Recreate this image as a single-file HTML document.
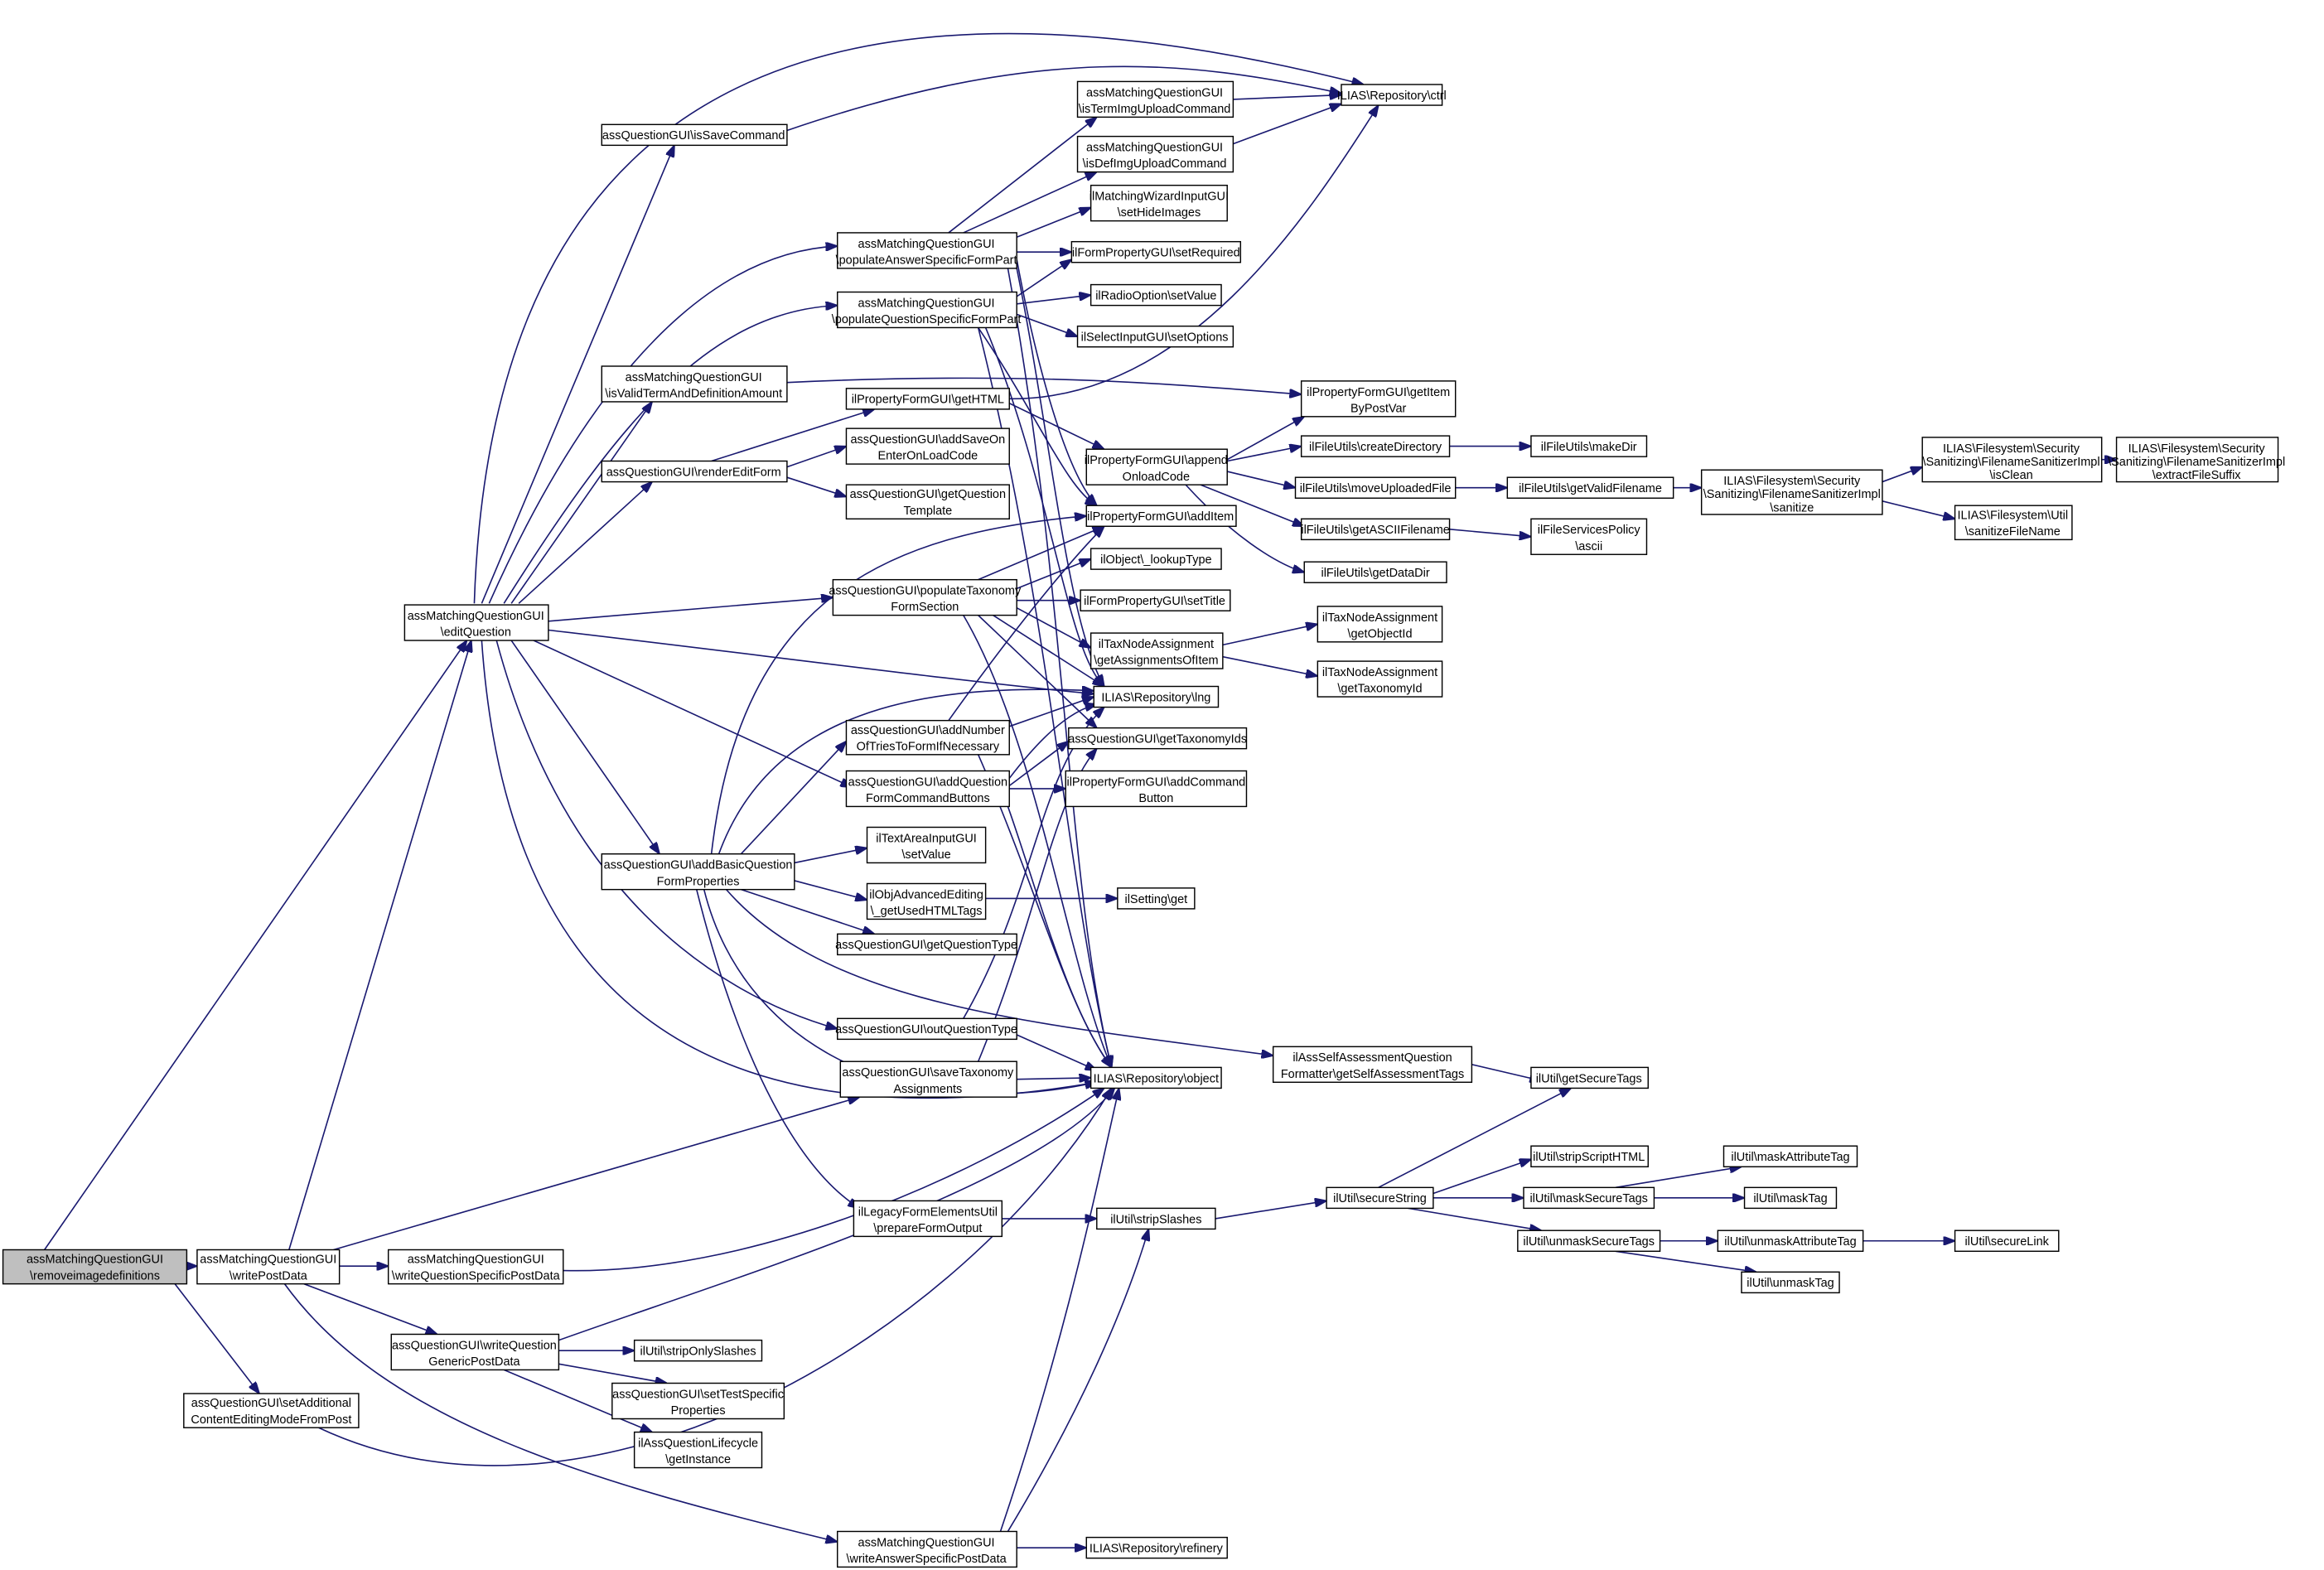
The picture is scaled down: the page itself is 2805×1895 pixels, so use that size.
<!DOCTYPE html>
<html><head><meta charset="utf-8"><style>
html,body{margin:0;padding:0;background:#fff}
svg{display:block}
rect{fill:#fff;stroke:#000;stroke-width:0.8}
text{font-family:"Liberation Sans",sans-serif;font-size:8.1px;text-anchor:middle;fill:#000}
path{fill:none;stroke:#191970;stroke-width:0.9}
</style></head><body>
<svg width="2805" height="1895" viewBox="0 0 1568 1059" preserveAspectRatio="none" xmlns="http://www.w3.org/2000/svg">
<defs><marker id="a" markerWidth="8" markerHeight="6" refX="8" refY="3" orient="auto" markerUnits="userSpaceOnUse"><path d="M0,0 L8,3 L0,6 z" style="fill:#191970;stroke:#191970"/></marker></defs>
<g marker-end="url(#a)">
<path d="M126,854 L133,854"/>
<path d="M30,843 L315,432"/>
<path d="M118,866 L175,940"/>
<path d="M195,843 L318,432"/>
<path d="M229,854 L262,854"/>
<path d="M225,843 L580,740"/>
<path d="M205,866 L295,900"/>
<path d="M192,866 C260,960 400,1000 565,1040"/>
<path d="M380,857 C500,860 650,800 745,734"/>
<path d="M215,963 C400,1050 650,900 750,734"/>
<path d="M377,904 C500,860 700,800 752,734"/>
<path d="M377,911 L428,911"/>
<path d="M377,920 L450,933"/>
<path d="M340,924 L440,966"/>
<path d="M675,1033 C720,900 740,800 755,734"/>
<path d="M680,1033 C730,950 760,880 775,829"/>
<path d="M686,1044 L733,1044"/>
<path d="M320,407 C330,100 500,-50 920,57"/>
<path d="M325,407 L455,98"/>
<path d="M330,407 C400,250 480,170 565,166"/>
<path d="M340,407 C420,280 480,210 565,206"/>
<path d="M345,407 L440,271"/>
<path d="M350,407 L440,325"/>
<path d="M370,419 L562,403"/>
<path d="M370,425 C500,440 650,460 738,468"/>
<path d="M345,432 L445,576"/>
<path d="M360,432 L575,531"/>
<path d="M335,432 C380,600 480,670 565,694"/>
<path d="M325,432 C340,650 450,780 740,730"/>
<path d="M531,88 C700,30 800,40 905,63"/>
<path d="M640,157 L740,79"/>
<path d="M650,157 L740,116"/>
<path d="M686,160 L736,140"/>
<path d="M686,170 L723,170"/>
<path d="M686,175 C700,250 720,320 740,341"/>
<path d="M686,181 C710,300 720,420 745,463"/>
<path d="M680,181 C720,400 720,600 750,720"/>
<path d="M832,67 L905,64"/>
<path d="M832,97 L905,70"/>
<path d="M686,200 L723,175"/>
<path d="M686,205 L736,199"/>
<path d="M686,212 L727,227"/>
<path d="M660,221 C700,280 720,330 740,341"/>
<path d="M665,221 C710,330 720,440 745,463"/>
<path d="M660,221 C710,420 720,600 750,720"/>
<path d="M531,258 C700,250 800,260 878,266"/>
<path d="M480,311 L590,276"/>
<path d="M531,315 L571,301"/>
<path d="M531,322 L571,335"/>
<path d="M681,269 C800,270 880,150 930,71"/>
<path d="M681,272 L745,303"/>
<path d="M828,310 L880,281"/>
<path d="M828,311 L878,301"/>
<path d="M828,318 L874,329"/>
<path d="M810,327 L880,355"/>
<path d="M800,327 C830,360 860,380 880,386"/>
<path d="M978,301 L1033,301"/>
<path d="M982,329 L1017,329"/>
<path d="M978,357 L1033,362"/>
<path d="M1129,329 L1148,329"/>
<path d="M1270,325 L1297,315"/>
<path d="M1270,338 L1319,350"/>
<path d="M1418,310 L1428,310"/>
<path d="M660,391 L745,355"/>
<path d="M686,397 L736,377"/>
<path d="M686,405 L729,405"/>
<path d="M686,410 L736,437"/>
<path d="M670,415 L745,463"/>
<path d="M660,415 L740,491"/>
<path d="M650,415 C700,500 720,650 750,720"/>
<path d="M825,435 L889,421"/>
<path d="M825,443 L889,456"/>
<path d="M640,486 C680,430 720,380 745,355"/>
<path d="M681,490 L738,470"/>
<path d="M660,509 C700,600 720,680 750,720"/>
<path d="M681,525 C700,500 720,480 740,475"/>
<path d="M681,530 L721,500"/>
<path d="M681,532 L719,532"/>
<path d="M680,544 C700,600 720,680 750,720"/>
<path d="M480,576 C500,400 600,360 733,348"/>
<path d="M485,576 C520,480 620,460 738,466"/>
<path d="M500,576 L571,500"/>
<path d="M536,582 L585,572"/>
<path d="M536,594 L585,607"/>
<path d="M500,600 L590,630"/>
<path d="M490,600 C560,680 700,690 859,712"/>
<path d="M470,600 C500,720 540,790 580,815"/>
<path d="M475,600 C500,700 600,760 740,730"/>
<path d="M665,606 L754,606"/>
<path d="M650,687 C700,600 700,520 745,477"/>
<path d="M686,698 L740,722"/>
<path d="M660,716 C700,620 710,540 740,505"/>
<path d="M686,728 L736,727"/>
<path d="M676,822 L740,822"/>
<path d="M820,822 L895,810"/>
<path d="M993,718 L1040,729"/>
<path d="M930,801 L1060,734"/>
<path d="M967,805 L1033,782"/>
<path d="M967,808 L1028,808"/>
<path d="M950,815 L1040,830"/>
<path d="M1090,801 L1175,787"/>
<path d="M1116,808 L1177,808"/>
<path d="M1120,837 L1159,837"/>
<path d="M1090,844 L1185,858"/>
<path d="M1257,837 L1319,837"/>
</g>
<rect x="2" y="843" width="124" height="23" style="fill:#bfbfbf"/><text x="64" y="852">assMatchingQuestionGUI</text><text x="64" y="863">\removeimagedefinitions</text>
<rect x="133" y="843" width="96" height="23"/><text x="181" y="852">assMatchingQuestionGUI</text><text x="181" y="863">\writePostData</text>
<rect x="262" y="843" width="118" height="23"/><text x="321" y="852">assMatchingQuestionGUI</text><text x="321" y="863">\writeQuestionSpecificPostData</text>
<rect x="124" y="940" width="118" height="23"/><text x="183" y="949">assQuestionGUI\setAdditional</text><text x="183" y="960">ContentEditingModeFromPost</text>
<rect x="264" y="900" width="113" height="24"/><text x="320" y="910">assQuestionGUI\writeQuestion</text><text x="320" y="921">GenericPostData</text>
<rect x="273" y="408" width="97" height="24"/><text x="321" y="418">assMatchingQuestionGUI</text><text x="321" y="429">\editQuestion</text>
<rect x="406" y="84" width="125" height="14"/><text x="468" y="94">assQuestionGUI\isSaveCommand</text>
<rect x="565" y="157" width="121" height="24"/><text x="625" y="167">assMatchingQuestionGUI</text><text x="625" y="178">\populateAnswerSpecificFormPart</text>
<rect x="565" y="197" width="121" height="24"/><text x="625" y="207">assMatchingQuestionGUI</text><text x="625" y="218">\populateQuestionSpecificFormPart</text>
<rect x="406" y="247" width="125" height="24"/><text x="468" y="257">assMatchingQuestionGUI</text><text x="468" y="268">\isValidTermAndDefinitionAmount</text>
<rect x="406" y="311" width="125" height="14"/><text x="468" y="321">assQuestionGUI\renderEditForm</text>
<rect x="571" y="262" width="110" height="14"/><text x="626" y="272">ilPropertyFormGUI\getHTML</text>
<rect x="571" y="289" width="110" height="24"/><text x="626" y="299">assQuestionGUI\addSaveOn</text><text x="626" y="310">EnterOnLoadCode</text>
<rect x="571" y="327" width="110" height="23"/><text x="626" y="336">assQuestionGUI\getQuestion</text><text x="626" y="347">Template</text>
<rect x="562" y="391" width="124" height="24"/><text x="624" y="401">assQuestionGUI\populateTaxonomy</text><text x="624" y="412">FormSection</text>
<rect x="571" y="486" width="110" height="23"/><text x="626" y="495">assQuestionGUI\addNumber</text><text x="626" y="506">OfTriesToFormIfNecessary</text>
<rect x="571" y="520" width="110" height="24"/><text x="626" y="530">assQuestionGUI\addQuestion</text><text x="626" y="541">FormCommandButtons</text>
<rect x="406" y="576" width="130" height="24"/><text x="471" y="586">assQuestionGUI\addBasicQuestion</text><text x="471" y="597">FormProperties</text>
<rect x="565" y="687" width="121" height="14"/><text x="625" y="697">assQuestionGUI\outQuestionType</text>
<rect x="567" y="716" width="119" height="24"/><text x="626" y="726">assQuestionGUI\saveTaxonomy</text><text x="626" y="737">Assignments</text>
<rect x="576" y="810" width="100" height="24"/><text x="626" y="820">ilLegacyFormElementsUtil</text><text x="626" y="831">\prepareFormOutput</text>
<rect x="565" y="1033" width="121" height="24"/><text x="625" y="1043">assMatchingQuestionGUI</text><text x="625" y="1054">\writeAnswerSpecificPostData</text>
<rect x="905" y="57" width="68" height="14"/><text x="939" y="67">ILIAS\Repository\ctrl</text>
<rect x="727" y="55" width="105" height="24"/><text x="779" y="65">assMatchingQuestionGUI</text><text x="779" y="76">\isTermImgUploadCommand</text>
<rect x="727" y="92" width="105" height="24"/><text x="779" y="102">assMatchingQuestionGUI</text><text x="779" y="113">\isDefImgUploadCommand</text>
<rect x="736" y="125" width="92" height="24"/><text x="782" y="135">ilMatchingWizardInputGUI</text><text x="782" y="146">\setHideImages</text>
<rect x="723" y="163" width="114" height="14"/><text x="780" y="173">ilFormPropertyGUI\setRequired</text>
<rect x="736" y="192" width="88" height="14"/><text x="780" y="202">ilRadioOption\setValue</text>
<rect x="727" y="220" width="105" height="14"/><text x="779" y="230">ilSelectInputGUI\setOptions</text>
<rect x="733" y="303" width="95" height="24"/><text x="780" y="313">ilPropertyFormGUI\append</text><text x="780" y="324">OnloadCode</text>
<rect x="733" y="341" width="101" height="14"/><text x="783" y="351">ilPropertyFormGUI\addItem</text>
<rect x="736" y="370" width="88" height="14"/><text x="780" y="380">ilObject\_lookupType</text>
<rect x="729" y="398" width="101" height="14"/><text x="779" y="408">ilFormPropertyGUI\setTitle</text>
<rect x="736" y="427" width="89" height="24"/><text x="780" y="437">ilTaxNodeAssignment</text><text x="780" y="448">\getAssignmentsOfItem</text>
<rect x="738" y="463" width="84" height="14"/><text x="780" y="473">ILIAS\Repository\lng</text>
<rect x="721" y="491" width="120" height="14"/><text x="781" y="501">assQuestionGUI\getTaxonomyIds</text>
<rect x="719" y="520" width="122" height="24"/><text x="780" y="530">ilPropertyFormGUI\addCommand</text><text x="780" y="541">Button</text>
<rect x="585" y="558" width="80" height="24"/><text x="625" y="568">ilTextAreaInputGUI</text><text x="625" y="579">\setValue</text>
<rect x="585" y="596" width="80" height="24"/><text x="625" y="606">ilObjAdvancedEditing</text><text x="625" y="617">\_getUsedHTMLTags</text>
<rect x="565" y="630" width="121" height="14"/><text x="625" y="640">assQuestionGUI\getQuestionType</text>
<rect x="754" y="599" width="52" height="14"/><text x="780" y="609">ilSetting\get</text>
<rect x="736" y="720" width="88" height="14"/><text x="780" y="730">ILIAS\Repository\object</text>
<rect x="859" y="706" width="134" height="24"/><text x="926" y="716">ilAssSelfAssessmentQuestion</text><text x="926" y="727">Formatter\getSelfAssessmentTags</text>
<rect x="740" y="815" width="80" height="14"/><text x="780" y="825">ilUtil\stripSlashes</text>
<rect x="428" y="904" width="86" height="14"/><text x="471" y="914">ilUtil\stripOnlySlashes</text>
<rect x="413" y="933" width="116" height="24"/><text x="471" y="943">assQuestionGUI\setTestSpecific</text><text x="471" y="954">Properties</text>
<rect x="428" y="966" width="86" height="24"/><text x="471" y="976">ilAssQuestionLifecycle</text><text x="471" y="987">\getInstance</text>
<rect x="733" y="1037" width="95" height="14"/><text x="780" y="1047">ILIAS\Repository\refinery</text>
<rect x="878" y="257" width="104" height="24"/><text x="930" y="267">ilPropertyFormGUI\getItem</text><text x="930" y="278">ByPostVar</text>
<rect x="878" y="294" width="100" height="14"/><text x="928" y="304">ilFileUtils\createDirectory</text>
<rect x="874" y="322" width="108" height="14"/><text x="928" y="332">ilFileUtils\moveUploadedFile</text>
<rect x="878" y="350" width="100" height="14"/><text x="928" y="360">ilFileUtils\getASCIIFilename</text>
<rect x="880" y="379" width="96" height="14"/><text x="928" y="389">ilFileUtils\getDataDir</text>
<rect x="889" y="409" width="84" height="24"/><text x="931" y="419">ilTaxNodeAssignment</text><text x="931" y="430">\getObjectId</text>
<rect x="889" y="446" width="84" height="24"/><text x="931" y="456">ilTaxNodeAssignment</text><text x="931" y="467">\getTaxonomyId</text>
<rect x="1033" y="720" width="79" height="14"/><text x="1072" y="730">ilUtil\getSecureTags</text>
<rect x="895" y="801" width="72" height="14"/><text x="931" y="811">ilUtil\secureString</text>
<rect x="1033" y="773" width="79" height="14"/><text x="1072" y="783">ilUtil\stripScriptHTML</text>
<rect x="1028" y="801" width="88" height="14"/><text x="1072" y="811">ilUtil\maskSecureTags</text>
<rect x="1024" y="830" width="96" height="14"/><text x="1072" y="840">ilUtil\unmaskSecureTags</text>
<rect x="1163" y="773" width="90" height="14"/><text x="1208" y="783">ilUtil\maskAttributeTag</text>
<rect x="1177" y="801" width="62" height="14"/><text x="1208" y="811">ilUtil\maskTag</text>
<rect x="1159" y="830" width="98" height="14"/><text x="1208" y="840">ilUtil\unmaskAttributeTag</text>
<rect x="1175" y="858" width="66" height="14"/><text x="1208" y="868">ilUtil\unmaskTag</text>
<rect x="1319" y="830" width="70" height="14"/><text x="1354" y="840">ilUtil\secureLink</text>
<rect x="1033" y="294" width="78" height="14"/><text x="1072" y="304">ilFileUtils\makeDir</text>
<rect x="1017" y="322" width="112" height="14"/><text x="1073" y="332">ilFileUtils\getValidFilename</text>
<rect x="1033" y="350" width="78" height="24"/><text x="1072" y="360">ilFileServicesPolicy</text><text x="1072" y="371">\ascii</text>
<rect x="1148" y="317" width="122" height="30"/><text x="1209" y="327">ILIAS\Filesystem\Security</text><text x="1209" y="336">\Sanitizing\FilenameSanitizerImpl</text><text x="1209" y="345">\sanitize</text>
<rect x="1297" y="295" width="121" height="30"/><text x="1357" y="305">ILIAS\Filesystem\Security</text><text x="1357" y="314">\Sanitizing\FilenameSanitizerImpl</text><text x="1357" y="323">\isClean</text>
<rect x="1428" y="295" width="109" height="30"/><text x="1482" y="305">ILIAS\Filesystem\Security</text><text x="1482" y="314">\Sanitizing\FilenameSanitizerImpl</text><text x="1482" y="323">\extractFileSuffix</text>
<rect x="1319" y="341" width="79" height="23"/><text x="1358" y="350">ILIAS\Filesystem\Util</text><text x="1358" y="361">\sanitizeFileName</text>
</svg>
</body></html>
